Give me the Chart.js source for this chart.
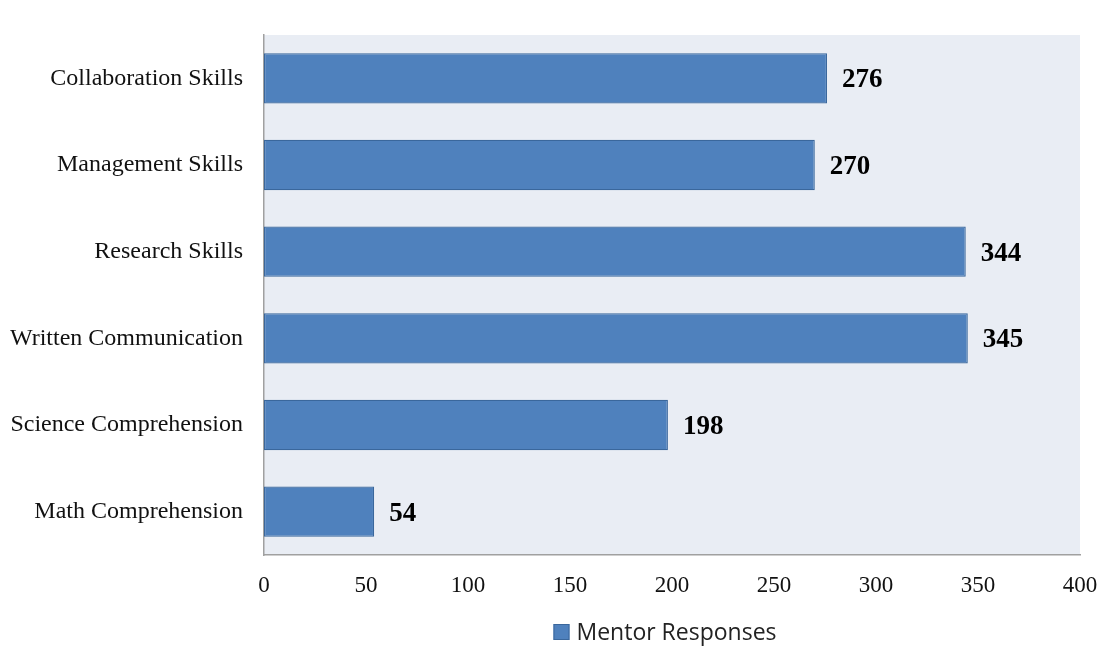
<!DOCTYPE html>
<html>
<head>
<meta charset="utf-8">
<script src="https://cdn.jsdelivr.net/npm/chart.js@4/dist/chart.umd.min.js"></script>
<style>
  html, body { margin: 0; padding: 0; background: #fff; }
  #wrap { width: 1102px; height: 646px; }
</style>
</head>
<body>
<div id="wrap"><canvas id="skillsChart" width="1102" height="646"></canvas></div>
<script>
const categories = [
  'Collaboration Skills',
  'Management Skills',
  'Research Skills',
  'Written Communication',
  'Science Comprehension',
  'Math Comprehension'
];
const mentorResponses = [276, 270, 344, 345, 198, 54];
const xTicks = [0, 50, 100, 150, 200, 250, 300, 350, 400];

// shaded plot area
const plotBackground = {
  id: 'plotBackground',
  beforeDraw(chart) {
    const { ctx, chartArea } = chart;
    ctx.save();
    ctx.fillStyle = '#e9edf4';
    ctx.fillRect(chartArea.left, chartArea.top, chartArea.right - chartArea.left, chartArea.bottom - chartArea.top);
    ctx.restore();
  }
};

// value labels at bar ends
const valueLabels = {
  id: 'valueLabels',
  afterDatasetsDraw(chart) {
    const { ctx } = chart;
    const meta = chart.getDatasetMeta(0);
    ctx.save();
    ctx.font = 'bold 27px "Liberation Serif"';
    ctx.fillStyle = '#000';
    ctx.textBaseline = 'middle';
    ctx.textAlign = 'left';
    meta.data.forEach((bar, i) => {
      ctx.fillText(String(mentorResponses[i]), bar.x + 15, bar.y + 2);
    });
    ctx.restore();
  }
};

// legend under the plot area
const plotLegend = {
  id: 'plotLegend',
  afterDraw(chart) {
    const { ctx, chartArea } = chart;
    const ds = chart.data.datasets[0];
    ctx.save();
    ctx.font = '23px "Open Sans"';
    const textW = ctx.measureText(ds.label).width;
    const box = 16, gap = 7;
    const total = box + gap + textW;
    const x0 = (chartArea.left + chartArea.right) / 2 - 7 - total / 2;
    const y = 632;
    ctx.fillStyle = ds.backgroundColor;
    ctx.strokeStyle = ds.borderColor;
    ctx.lineWidth = 1;
    ctx.fillRect(x0, y - box / 2, box, box);
    ctx.strokeRect(x0 + 0.5, y - box / 2 + 0.5, box - 1, box - 1);
    ctx.fillStyle = '#222';
    ctx.textBaseline = 'middle';
    ctx.fillText(ds.label, x0 + box + gap, y + 1);
    ctx.restore();
  }
};

new Chart(document.getElementById('skillsChart').getContext('2d'), {
  type: 'bar',
  data: {
    labels: categories,
    datasets: [{
      label: 'Mentor Responses',
      data: mentorResponses,
      backgroundColor: '#4f81bd',
      borderColor: '#3a679c',
      borderWidth: 1.2,
      borderSkipped: false,
      barPercentage: 0.58,
      categoryPercentage: 1
    }]
  },
  options: {
    indexAxis: 'y',
    responsive: false,
    animation: false,
    layout: { padding: { top: 35, right: 0, left: 0, bottom: 0 } },
    plugins: {
      legend: { display: false },
      tooltip: { enabled: false }
    },
    scales: {
      x: {
        min: 0,
        max: 400,
        afterBuildTicks: (scale) => {
          scale.ticks = xTicks.map((v) => ({ value: v }));
        },
        afterFit: (scale) => {
          scale.height = 91;
          scale.paddingRight = 22;
        },
        grid: { display: false },
        border: { display: true, color: '#a0a0a0', width: 1.5 },
        ticks: {
          color: '#111',
          padding: 9,
          maxRotation: 0,
          font: { family: '"Liberation Serif"', size: 23 }
        }
      },
      y: {
        afterFit: (scale) => { scale.width = 264; },
        grid: { display: false },
        border: { display: true, color: '#a0a0a0', width: 1.5 },
        ticks: {
          color: '#111',
          padding: 13,
          font: { family: '"Liberation Serif"', size: 24 }
        }
      }
    }
  },
  plugins: [plotBackground, valueLabels, plotLegend]
});
</script>
</body>
</html>
